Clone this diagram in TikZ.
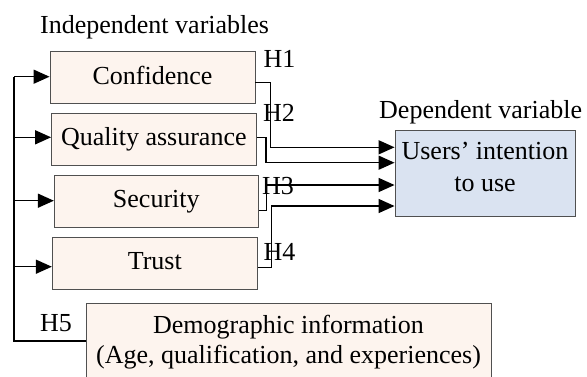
\documentclass[tikz,border=0pt]{standalone}
\usepackage{fontspec}
\setmainfont{Liberation Serif}
\usetikzlibrary{arrows.meta}
\definecolor{peach}{RGB}{253,244,238}
\definecolor{lblue}{RGB}{218,227,241}
\definecolor{edgegray}{RGB}{80,80,80}
\begin{document}
\begin{tikzpicture}[x=1pt,y=-1pt,
  every node/.style={font=\fontsize{26}{30}\selectfont, inner sep=0pt},
  varbox/.style={draw=edgegray, line width=0.9pt, fill=peach, minimum height=52pt, text height=18pt, text depth=5pt},
  conn/.style={line width=1.5pt, black},
  arr/.style={conn, -{Triangle[length=16pt,width=14pt]}},
  lbl/.style={anchor=base west}]
\useasboundingbox (0,0) rectangle (587,376);
% boxes
\node[varbox, minimum width=205pt] (conf) at (152.5,77.5) {Confidence};
\node[varbox, minimum width=204.5pt] (qa) at (153.8,139.2) {Quality assurance};
\node[varbox, minimum width=204pt] (sec) at (156.3,201.2) {Security};
\node[varbox, minimum width=205pt] (trust) at (154.8,263) {Trust};
\node[draw=edgegray, line width=0.9pt, fill=lblue, minimum width=180pt, minimum height=86pt] (users) at (485,173) {};
\node[align=center, font=\fontsize{26}{32}\selectfont] (userstxt) at (485,167.2) {Users’ intention\\to use};
\node[draw=edgegray, line width=0.9pt, fill=peach, minimum width=405pt, minimum height=78pt, align=center] (demo) at (288.5,342) {Demographic information\\(Age, qualification, and experiences)};
% labels
\node[lbl] (indep) at (40,33.3) {Independent variables};
\node[lbl] (dep) at (379,118.3) {Dependent variable};
\node[lbl] (h1) at (263.3,67.7) {H1};
\node[lbl] (h2) at (263,121.7) {H2};
\node[lbl] (h3) at (262,194) {H3};
\node[lbl] (h4) at (263.3,260) {H4};
\node[lbl] (h5) at (40,331.7) {H5};
% left spine
\coordinate (s1) at (14,76.7);
\coordinate (s2) at (14,137.3);
\coordinate (s3) at (14,200.7);
\coordinate (s4) at (14,266.7);
\coordinate (s5) at (14,341);
\draw[conn] (s1) -- (s5) -- (demo.west |- s5);
\draw[arr] (s1) -- (conf.west |- s1);
\draw[arr] (s2) -- (qa.west |- s2);
\draw[arr] (s3) -- (sec.west |- s3);
\draw[arr] (s4) -- (trust.west |- s4);
% right connectors
\draw[arr] (conf.east |- 0,82.3) -| (270.7,147.3) -- (users.west |- 0,147.3);
\draw[arr] (qa.east |- 0,137.3) -| (266,162.7) -- (users.west |- 0,162.7);
\draw[arr] (sec.east |- 0,210.7) -| (266.5,185) -- (users.west |- 0,185);
\draw[arr] (trust.east |- 0,267.3) -| (271.7,206) -- (users.west |- 0,206);
\end{tikzpicture}
\end{document}
